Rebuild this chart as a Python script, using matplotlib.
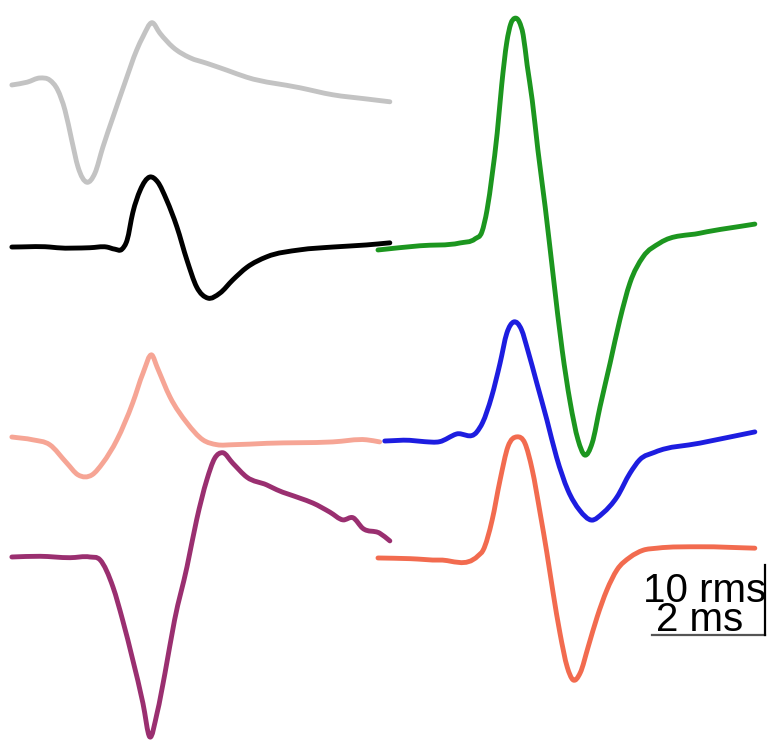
import numpy as np
import matplotlib.pyplot as plt
from matplotlib.path import Path
from matplotlib.patches import PathPatch

# spike waveforms: time (ms from trace start), amplitude (rms units from baseline)
gray_t = [0, 0.27, 0.50, 0.67, 0.81, 0.94, 1.06, 1.17, 1.33, 1.47, 1.61, 1.79, 2.00, 2.21, 2.32, 2.48, 2.62, 2.85, 3.15, 3.45, 3.81, 4.16, 5.10, 5.68, 6.28, 6.69]
gray_v = [0, 0.4, 1.0, 0.7, -0.7, -3.6, -7.9, -11.7, -13.9, -12.6, -8.9, -4.6, 0.3, 5.0, 6.9, 8.9, 7.4, 5.4, 3.9, 3.1, 2.1, 1.1, -0.4, -1.4, -2.0, -2.4]

black_t = [0, 0.67, 0.80, 1.38, 1.68, 1.82, 1.95, 2.04, 2.14, 2.27, 2.44, 2.58, 2.74, 2.92, 3.10, 3.27, 3.47, 3.68, 3.91, 4.16, 4.51, 5.10, 5.68, 6.28, 6.69]
black_v = [0, 0, -0.1, -0.1, 0, -0.3, -0.3, 1.0, 4.9, 8.1, 10.0, 9.3, 6.7, 2.9, -1.9, -5.7, -7.3, -6.6, -4.7, -2.9, -1.4, -0.4, 0, 0.3, 0.6]

salmon_t = [0, 0.37, 0.67, 0.97, 1.17, 1.42, 1.61, 1.86, 2.14, 2.32, 2.48, 2.57, 2.80, 3.10, 3.38, 3.63, 3.91, 4.51, 5.68, 6.28, 6.51]
salmon_v = [0, -0.4, -1.1, -3.7, -5.4, -5.4, -3.7, -0.4, 4.9, 9.1, 11.7, 10.0, 5.7, 2.0, -0.4, -1.1, -1.1, -0.9, -0.7, -0.4, -0.7]

purple_t = [0, 0.50, 1.03, 1.38, 1.56, 1.79, 1.96, 2.14, 2.32, 2.44, 2.57, 2.71, 2.88, 3.10, 3.27, 3.45, 3.59, 3.73, 3.91, 4.16, 4.51, 4.69, 5.10, 5.33, 5.63, 5.86, 6.04, 6.21, 6.51, 6.69]
purple_v = [0, 0.1, -0.1, 0, -0.4, -4.3, -9.0, -14.7, -20.9, -25.7, -22.3, -16.6, -9.0, -1.4, 5.3, 11.0, 14.1, 14.9, 13.4, 11.4, 10.3, 9.6, 8.4, 7.7, 6.4, 5.3, 5.6, 4.1, 3.4, 2.3]

green_t = [0, 0.74, 1.45, 1.72, 1.84, 1.93, 2.02, 2.11, 2.19, 2.28, 2.35, 2.42, 2.50, 2.57, 2.64, 2.73, 2.83, 2.96, 3.10, 3.26, 3.40, 3.54, 3.66, 3.79, 3.93, 4.11, 4.28, 4.46, 4.69, 4.99, 5.70, 6.67]
green_v = [0, 0.6, 1.0, 1.6, 2.6, 5.7, 10.7, 16.7, 23.6, 29.7, 32.3, 33.1, 32.6, 30.7, 26.4, 21.4, 14.3, 6.1, -3.6, -14.3, -21.7, -27.1, -29.3, -27.6, -22.4, -16.1, -10.0, -4.7, -1.0, 1.0, 2.4, 3.7]

blue_t = [0, 0.44, 0.71, 0.97, 1.27, 1.63, 1.73, 1.89, 2.04, 2.16, 2.28, 2.42, 2.53, 2.69, 2.87, 3.04, 3.24, 3.45, 3.66, 3.86, 4.11, 4.34, 4.51, 4.78, 5.58, 6.55]
blue_v = [0, 0.1, -0.1, -0.1, 1.0, 1.3, 2.6, 6.3, 11.1, 15.4, 17.0, 15.9, 13.0, 8.3, 3.0, -2.3, -7.0, -9.9, -11.3, -10.3, -8.0, -4.6, -2.7, -1.6, -0.3, 1.3]

red_t = [0, 0.57, 1.10, 1.77, 1.86, 2.02, 2.16, 2.30, 2.46, 2.60, 2.73, 2.87, 2.99, 3.10, 3.22, 3.35, 3.45, 3.58, 3.72, 3.88, 4.05, 4.23, 4.46, 4.69, 4.94, 5.70, 6.67]
red_v = [0, -0.1, -0.3, 0.3, 1.1, 5.4, 11.1, 15.9, 17.3, 16.4, 12.6, 6.4, 0.7, -5.0, -10.7, -15.6, -17.4, -16.4, -12.7, -8.4, -4.6, -1.7, 0.1, 1.1, 1.4, 1.6, 1.4]

# (time, amplitude, color, x offset ms, baseline rms)
traces = [
    (gray_t, gray_v, "#c3c3c3", 0.21, 93.86),
    (black_t, black_v, "#000000", 0.21, 70.71),
    (salmon_t, salmon_v, "#f6a595", 0.21, 43.57),
    (purple_t, purple_v, "#9a2f70", 0.21, 26.43),
    (green_t, green_v, "#1c961f", 6.69, 70.29),
    (blue_t, blue_v, "#1d1de0", 6.81, 43.0),
    (red_t, red_v, "#f26b4f", 6.69, 26.29),
]


def smooth_path(x, y):
    # cubic Hermite through the read points (slopes from neighbours),
    # drawn as Bezier segments so the trace looks like a continuous recording
    x = np.asarray(x, float)
    y = np.asarray(y, float)
    m = np.gradient(y, x)
    verts = [(x[0], y[0])]
    codes = [Path.MOVETO]
    for i in range(len(x) - 1):
        h = x[i + 1] - x[i]
        verts += [(x[i] + h / 3, y[i] + m[i] * h / 3),
                  (x[i + 1] - h / 3, y[i + 1] - m[i + 1] * h / 3),
                  (x[i + 1], y[i + 1])]
        codes += [Path.CURVE4] * 3
    return Path(verts, codes)


fig = plt.figure(figsize=(7.67, 7.42), dpi=100)
ax = fig.add_axes([0, 0, 1, 1])
ax.set_xlim(0, 767 / 56.5)
ax.set_ylim(0, 742 / 7)
ax.axis("off")

for t, v, c, x0, y0 in traces:
    path = smooth_path(np.array(t) + x0, np.array(v) + y0)
    ax.add_patch(PathPatch(path, facecolor="none", edgecolor=c, lw=3.5,
                           joinstyle="round", capstyle="round"))

# scale bar: 2 ms x 10 rms
bx, by = 13.54, 15.3
ax.plot([bx - 2, bx], [by, by], color="#555555", lw=1.6)
ax.plot([bx, bx], [by, by + 10], color="#000000", lw=1.6)
ax.text(12.47, 20.0, "10 rms", ha="center", va="baseline", fontsize=29,
        family="Liberation Sans")
ax.text(12.39, 15.9, "2 ms", ha="center", va="baseline", fontsize=29,
        family="Liberation Sans")

plt.savefig("out.png", dpi=100)
